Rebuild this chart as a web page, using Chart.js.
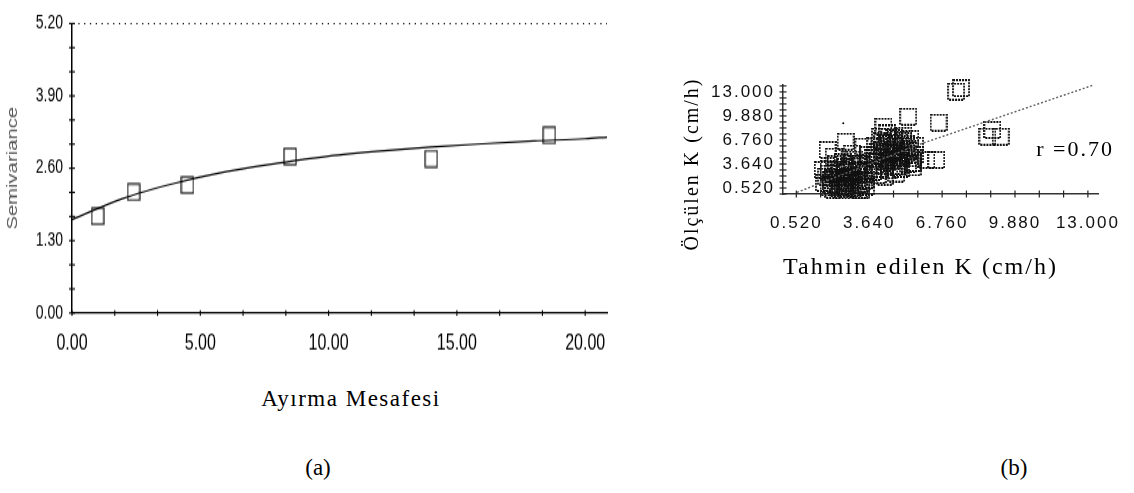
<!DOCTYPE html>
<html>
<head>
<meta charset="utf-8">
<script src="https://cdn.jsdelivr.net/npm/chart.js@4.4.1/dist/chart.umd.min.js"></script>
<style>
  body { margin: 0; background: #fff; width: 1134px; height: 493px; position: relative; overflow: hidden; }
  canvas { position: absolute; }
  /* panel (a) of the source figure is a vertically stretched screenshot */
  #chartA { left: 0; top: 0; transform: scaleY(1.35); transform-origin: 0 0; }
  #chartB { left: 670px; top: 40px; }
  .txt { position: absolute; font-family: 'Liberation Serif', serif; color: #000; transform: translateX(-50%); white-space: nowrap; }
</style>
</head>
<body>
<canvas id="chartA" width="640" height="270"></canvas>
<canvas id="chartB" width="464" height="280"></canvas>
<div class="txt" style="left:351px; top:386px; font-size:23px; letter-spacing:1.5px">Ayırma Mesafesi</div>
<div class="txt" style="left:318px; top:455px; font-size:23px">(a)</div>
<div class="txt" style="left:1014px; top:455px; font-size:23px">(b)</div>
<script>
// (a) semivariogram
const lagDistance = [1.0, 2.4, 4.5, 8.5, 14.0, 18.6];
const semivariance = [1.74, 2.17, 2.30, 2.81, 2.77, 3.19];
const modelLag = [0, 2, 4, 6, 8, 10, 12, 14, 16, 18, 20, 20.85];
const modelSemivariance = [1.68, 2.06, 2.33, 2.54, 2.69, 2.82, 2.91, 2.98, 3.04, 3.09, 3.13, 3.16];
const lagTickLabels = [0, 5, 10, 15, 20];
const semivarTickLabels = [0, 1.3, 2.6, 3.9, 5.2];

// (b) measured vs predicted K
const predictedK = [
  1.7, 1.8, 1.9, 1.9, 2.0, 2.1, 2.1, 2.2, 2.2, 2.3, 2.3, 2.4, 2.4, 2.5, 2.5, 2.6, 2.6, 2.7, 2.7, 2.8, 2.8,
  2.9, 2.9, 3.0, 3.0, 3.1, 3.1, 3.2, 3.2, 3.3, 3.3, 3.4, 3.5, 3.5, 3.6, 1.65, 1.86, 2.63, 3.39, 2.12, 2.9, 3.6,
  2.0, 2.2, 2.4, 2.6, 2.8, 3.0, 3.2, 3.4, 2.5, 2.9, 3.3, 2.1, 2.7, 3.1, 1.9,
  3.8, 3.8, 3.9, 3.9, 4.0, 4.0, 4.1, 4.1, 4.2, 4.2, 4.25, 4.3, 4.3, 4.4, 4.4, 4.5, 4.5, 4.6, 4.6, 4.7, 4.7,
  4.8, 4.8, 4.9, 4.9, 5.0, 5.0, 5.1, 5.1, 5.2, 5.3, 5.3, 5.4, 5.5, 5.5, 5.6, 5.31,
  4.0, 4.2, 4.4, 4.6, 4.8, 5.0, 5.2, 4.3, 4.7, 5.1, 4.5, 3.9, 5.4, 4.9, 5.6,
  5.51, 6.09, 6.51, 6.61, 7.36, 7.57, 8.91, 8.7, 9.27
];
const measuredK = [
  1.2, 2.0, 0.6, 3.0, 1.5, 0.3, 2.4, 3.6, 1.0, 0.5, 2.0, 2.9, 1.4, 0.2, 3.9, 1.8, 0.8, 2.6, 0.4, 1.2, 3.3,
  2.1, 0.6, 1.6, 4.2, 0.9, 2.7, 0.3, 1.9, 3.4, 1.1, 2.3, 0.7, 1.6, 2.9, 2.86, 5.46, 6.54, 5.9, 4.6, 5.0, 4.8,
  0.9, 2.8, 0.6, 3.2, 1.9, 0.5, 2.6, 1.4, 1.2, 3.7, 0.2, 1.8, 1.5, 3.6, 2.4,
  2.6, 4.4, 3.5, 6.0, 2.2, 5.2, 7.2, 3.0, 4.6, 6.6, 8.49, 2.0, 5.8, 3.8, 7.6, 5.0, 2.8, 6.4, 4.2, 7.0, 3.2,
  5.5, 2.4, 6.8, 4.0, 5.9, 3.0, 7.3, 4.7, 6.2, 3.6, 5.3, 6.9, 4.4, 3.2, 6.0, 9.79,
  4.0, 5.4, 6.2, 5.2, 6.0, 4.4, 5.0, 3.4, 4.6, 6.6, 7.2, 4.8, 5.6, 3.4, 4.8,
  3.77, 4.16, 4.16, 9.01, 13.04, 13.48, 8.06, 7.19, 7.19
];
const fitLineX = [0.55, 5.8, 13.2];
const fitLineY = [-0.05, 6.2, 13.85];
const strayX = [2.53];
const strayY = [8.93];
const kTickLabels = [0.52, 3.64, 6.76, 9.88, 13.0];
const rText = 'r =0.70';
const rTextAt = { x: 12.45, y: 5.45 };

function withMinor(labels, parts, min, max) {
  const step = (labels[1] - labels[0]) / parts;
  const out = [];
  for (let k = -60; k <= 200; k++) {
    const v = labels[0] + k * step;
    if (v >= min - 1e-6 && v <= max + 1e-6) out.push(v);
  }
  return out;
}

function isLabel(labels, v) {
  return labels.some(l => Math.abs(l - v) < 1e-6);
}

function squareMarker(w, h, dotted) {
  const c = document.createElement('canvas');
  c.width = w + 2;
  c.height = h + 2;
  const g = c.getContext('2d');
  g.strokeStyle = dotted ? '#111' : '#000';
  g.lineWidth = dotted ? 1.8 : 1.1;
  if (dotted) g.setLineDash([2, 1]);
  g.strokeRect(1, 1, w, h);
  return c;
}

// small tick marks crossing the axis lines
const crossTicks = {
  id: 'crossTicks',
  afterDraw(chart, args, opts) {
    const ctx = chart.ctx;
    const xs = chart.scales.x, ys = chart.scales.y;
    ctx.save();
    ctx.strokeStyle = opts.color || '#000';
    ctx.lineWidth = opts.width || 1;
    ctx.setLineDash([]);
    xs.ticks.forEach(t => {
      const p = xs.getPixelForValue(t.value);
      ctx.beginPath(); ctx.moveTo(p, xs.top - opts.halfX); ctx.lineTo(p, xs.top + opts.halfX); ctx.stroke();
    });
    ys.ticks.forEach(t => {
      const p = ys.getPixelForValue(t.value);
      ctx.beginPath(); ctx.moveTo(ys.right - opts.halfY, p); ctx.lineTo(ys.right + opts.halfY, p); ctx.stroke();
    });
    ctx.restore();
  }
};

const spacing = {
  id: 'spacing',
  beforeDraw(chart, args, opts) {
    chart.ctx.letterSpacing = opts.value || '0px';
  }
};

const rLabel = {
  id: 'rLabel',
  afterDraw(chart) {
    const { ctx, scales: { x, y } } = chart;
    ctx.save();
    ctx.font = "22px 'Liberation Serif', serif";
    ctx.fillStyle = '#000';
    ctx.textAlign = 'center';
    ctx.textBaseline = 'middle';
    ctx.fillText(rText, x.getPixelForValue(rTextAt.x), y.getPixelForValue(rTextAt.y));
    ctx.restore();
  }
};

new Chart(document.getElementById('chartA'), {
  type: 'scatter',
  plugins: [crossTicks],
  data: {
    datasets: [{
      label: 'Model',
      data: modelLag.map((x, i) => ({ x: x, y: modelSemivariance[i] })),
      showLine: true,
      borderColor: '#000',
      borderWidth: 1.2,
      pointRadius: 0,
      cubicInterpolationMode: 'monotone',
      order: 2
    }, {
      label: 'Semivariance',
      data: lagDistance.map((x, i) => ({ x: x, y: semivariance[i] })),
      pointStyle: squareMarker(12, 12, false),
      pointRadius: 7,
      order: 1
    }]
  },
  options: {
    responsive: false,
    animation: false,
    devicePixelRatio: 1,
    layout: { padding: { left: 0, top: 14.8, right: 33, bottom: 0 } },
    plugins: {
      legend: { display: false },
      tooltip: { enabled: false },
      crossTicks: { halfX: 2.2, halfY: 3, width: 1.1, color: '#000' }
    },
    scales: {
      x: {
        type: 'linear', min: 0, max: 20.85,
        afterBuildTicks: s => { s.ticks = withMinor(lagTickLabels, 3, 0, 20.85).map(value => ({ value })); },
        afterFit: s => { s.height = 38.15; },
        grid: { display: false, drawTicks: false },
        border: { display: true, color: '#000', width: 1.3 },
        ticks: {
          autoSkip: false, maxRotation: 0, padding: 13, color: '#000',
          font: { family: "'Liberation Sans', sans-serif", size: 16 },
          callback: v => isLabel(lagTickLabels, v) ? v.toFixed(2) : ''
        }
      },
      y: {
        type: 'linear', min: 0, max: 5.2,
        afterBuildTicks: s => { s.ticks = withMinor(semivarTickLabels, 3, 0, 5.2).map(value => ({ value })); },
        afterFit: s => { s.width = 72; },
        grid: {
          display: true, drawTicks: false, lineWidth: 1,
          color: c => (c.tick && Math.abs(c.tick.value - 5.2) < 1e-6) ? '#000' : 'rgba(0,0,0,0)'
        },
        border: { display: true, color: '#000', width: 1.5, dash: [1.3, 4.5] },
        ticks: {
          autoSkip: false, padding: 9, color: '#000',
          font: { family: "'Liberation Sans', sans-serif", size: 14 },
          callback: v => isLabel(semivarTickLabels, v) ? v.toFixed(2) : ''
        },
        title: {
          display: true, text: 'Semivariance', color: '#555',
          font: { family: "'Liberation Sans', sans-serif", size: 15 },
          padding: { top: 4, bottom: 0 }
        }
      }
    }
  }
});

new Chart(document.getElementById('chartB'), {
  type: 'scatter',
  plugins: [spacing, crossTicks, rLabel],
  data: {
    datasets: [{
      label: 'Fit',
      data: fitLineX.map((x, i) => ({ x: x, y: fitLineY[i] })),
      showLine: true,
      borderColor: '#666',
      borderWidth: 1.5,
      borderDash: [2, 2],
      pointRadius: 0,
      clip: false,
      order: 1
    }, {
      label: 'K',
      data: predictedK.map((x, i) => ({ x: x, y: measuredK[i] })),
      pointStyle: squareMarker(16, 16, true),
      pointRadius: 8,
      clip: false,
      order: 2
    }, {
      label: 'dot',
      data: strayX.map((x, i) => ({ x: x, y: strayY[i] })),
      pointStyle: 'circle',
      pointRadius: 1,
      backgroundColor: '#000',
      borderWidth: 0,
      order: 0
    }]
  },
  options: {
    responsive: false,
    animation: false,
    devicePixelRatio: 1,
    layout: { padding: { left: 0, top: 45, right: 32, bottom: 0 } },
    plugins: {
      legend: { display: false },
      tooltip: { enabled: false },
      spacing: { value: '2px' },
      crossTicks: { halfX: 3.5, halfY: 3.5, width: 1.2, color: '#222' }
    },
    scales: {
      x: {
        type: 'linear', min: -0.05, max: 13.47,
        afterBuildTicks: s => { s.ticks = withMinor(kTickLabels, 3, -0.05, 13.47).map(value => ({ value })); },
        afterFit: s => { s.height = 126; },
        grid: { display: false, drawTicks: false },
        border: { display: true, color: '#333', width: 1.5 },
        ticks: {
          autoSkip: false, maxRotation: 0, padding: 19, color: '#111',
          font: { family: "'Liberation Sans', sans-serif", size: 17 },
          callback: v => isLabel(kTickLabels, v) ? v.toFixed(3) : ''
        },
        title: {
          display: true, text: 'Tahmin edilen K (cm/h)', color: '#000', align: 'start',
          font: { family: "'Liberation Serif', serif", size: 24 },
          padding: { top: 0, bottom: 38 }
        }
      },
      y: {
        type: 'linear', min: -0.26, max: 13.9,
        afterBuildTicks: s => { s.ticks = withMinor(kTickLabels, 4, -0.26, 13.9).map(value => ({ value })); },
        afterFit: s => { s.width = 113; },
        grid: { display: false, drawTicks: false },
        border: { display: true, color: '#333', width: 1.5 },
        ticks: {
          autoSkip: false, padding: 8, color: '#111',
          font: { family: "'Liberation Sans', sans-serif", size: 17 },
          callback: v => isLabel(kTickLabels, v) ? v.toFixed(3) : ''
        },
        title: {
          display: true, text: 'Ölçülen K (cm/h)' + '\u00a0'.repeat(7), color: '#000',
          font: { family: "'Liberation Serif', serif", size: 20 },
          padding: { top: 11, bottom: 0 }
        }
      }
    }
  }
});
</script>
</body>
</html>
